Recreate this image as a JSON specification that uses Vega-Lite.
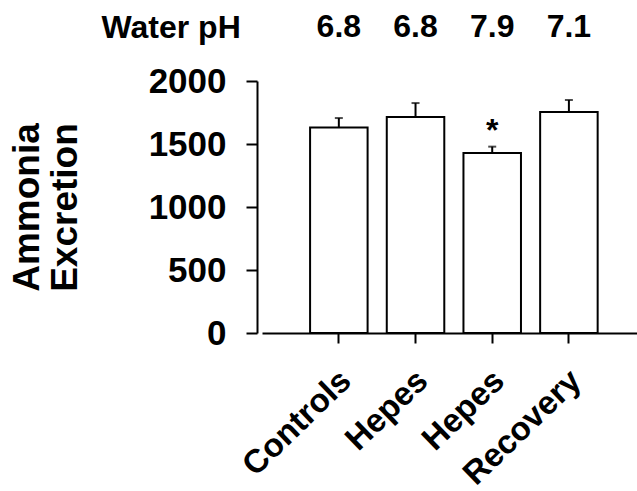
{
  "$schema": "https://vega.github.io/schema/vega-lite/v6.json",
  "autosize": {"type": "none"},
  "padding": {"left": 262, "top": 81, "right": 0, "bottom": 158},
  "width": 375,
  "height": 252,
  "background": "white",
  "config": {
    "view": {"stroke": null},
    "font": "Liberation Sans",
    "axis": {
      "labelFont": "Liberation Sans",
      "titleFont": "Liberation Sans",
      "labelFontWeight": "bold",
      "titleFontWeight": "bold",
      "labelColor": "black",
      "titleColor": "black",
      "domainColor": "black",
      "tickColor": "black",
      "domainWidth": 2,
      "tickWidth": 2,
      "grid": false
    }
  },
  "data": {
    "values": [
      {"group": "Controls|6.8", "mean": 1630, "upper": 1706, "sig": ""},
      {"group": "Hepes|6.8", "mean": 1714, "upper": 1825, "sig": ""},
      {"group": "Hepes|7.9", "mean": 1429, "upper": 1479, "sig": "*"},
      {"group": "Recovery|7.1", "mean": 1754, "upper": 1849, "sig": ""}
    ]
  },
  "resolve": {"axis": {"x": "independent"}},
  "layer": [
    {
      "mark": {"type": "bar", "fill": "white", "stroke": "black", "strokeWidth": 2},
      "encoding": {
        "x": {"field": "group", "type": "nominal", "sort": null,
          "scale": {"type": "band", "paddingInner": 0.25, "paddingOuter": 0.57, "align": 0.55},
          "axis": {"orient": "bottom", "title": null, "labelAngle": -44, "labelFontSize": 33,
            "tickSize": 10, "labelPadding": 21, "labelOffset": -4,
            "labelExpr": "split(datum.value, '|')[0]"}},
        "y": {"field": "mean", "type": "quantitative",
          "scale": {"domain": [0, 2000], "nice": false},
          "axis": {"values": [0, 500, 1000, 1500, 2000], "format": "d", "offset": 5, "tickSize": 11,
            "labelFontSize": 35, "labelPadding": 20,
            "title": ["Ammonia", "Excretion"], "titleFontSize": 37, "titlePadding": 64,
            "titleLineHeight": 38}}
      }
    },
    {
      "mark": {"type": "rule", "stroke": "black", "strokeWidth": 2},
      "encoding": {
        "x": {"field": "group", "type": "nominal", "sort": null,
          "axis": {"orient": "top", "title": "Water pH", "domain": false, "ticks": false,
            "labelAngle": 0, "labelFontSize": 32, "labelPadding": 38,
            "labelExpr": "split(datum.value, '|')[1]",
            "titleFontSize": 32, "titleAngle": 0, "titleAlign": "left", "titleBaseline": "alphabetic",
            "titleX": -161, "titleY": -44}},
        "y": {"field": "mean", "type": "quantitative"},
        "y2": {"field": "upper"}
      }
    },
    {
      "mark": {"type": "tick", "color": "black", "thickness": 2, "size": 8},
      "encoding": {
        "x": {"field": "group", "type": "nominal", "sort": null, "axis": null},
        "y": {"field": "upper", "type": "quantitative"}
      }
    },
    {
      "mark": {"type": "text", "fontSize": 32, "fontWeight": "bold", "font": "Liberation Sans", "baseline": "middle", "dy": -16},
      "encoding": {
        "x": {"field": "group", "type": "nominal", "sort": null, "axis": null},
        "y": {"field": "upper", "type": "quantitative"},
        "text": {"field": "sig"}
      }
    }
  ]
}
